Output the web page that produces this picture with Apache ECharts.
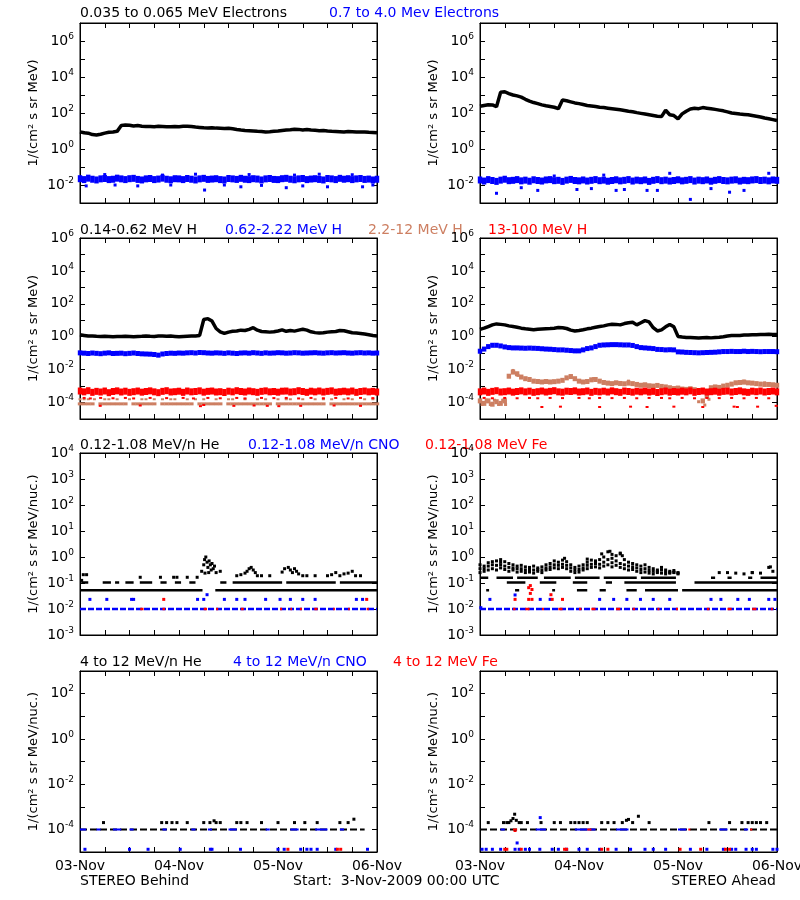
<!DOCTYPE html>
<html><head><meta charset="utf-8">
<script src="https://cdn.jsdelivr.net/npm/echarts/dist/echarts.min.js"></script>
<style>html,body{margin:0;padding:0;background:#fff}#c{width:800px;height:900px}</style>
</head><body><div id="c"></div>
<script>
// ---------- tick labels / categories ----------
const DAY_LABELS = ['03-Nov', '04-Nov', '05-Nov', '06-Nov'];   // x ticks every 24 h (hours 0..72)

// ---------- DATA (log10 of flux), hourly values h=0..72, null = no point ----------
// Row 1 left : STEREO Behind electrons
const EB_LO = [0.95,0.9,0.88,0.8,0.78,0.82,0.88,0.93,0.95,0.98,
  1.3,1.33,1.32,1.28,1.3,1.27,1.25,1.25,1.24,1.26,
  1.25,1.24,1.23,1.25,1.24,1.26,1.27,1.25,1.22,1.2,
  1.18,1.17,1.18,1.16,1.15,1.14,1.15,1.12,1.08,1.05,
  1.03,1.02,1.0,0.98,0.97,0.95,0.96,0.98,1.0,1.03,
  1.05,1.07,1.1,1.09,1.06,1.08,1.05,1.04,1.02,1.03,
  1.0,0.98,0.97,0.96,0.95,0.97,0.96,0.95,0.94,0.95,
  0.93,0.92,0.9];
const EB_HI = [-1.65,-1.7,-1.62,-1.68,-1.72,-1.66,-1.64,-1.7,-1.68,-1.62,
  -1.66,-1.7,-1.65,-1.63,-1.69,-1.72,-1.66,-1.64,-1.7,-1.67,
  -1.62,-1.68,-1.71,-1.65,-1.66,-1.7,-1.64,-1.68,-1.72,-1.66,
  -1.63,-1.69,-1.67,-1.65,-1.7,-1.72,-1.64,-1.66,-1.69,-1.63,
  -1.68,-1.7,-1.65,-1.67,-1.72,-1.66,-1.64,-1.69,-1.7,-1.65,
  -1.63,-1.68,-1.71,-1.66,-1.64,-1.7,-1.67,-1.65,-1.69,-1.72,
  -1.64,-1.66,-1.7,-1.63,-1.68,-1.65,-1.7,-1.66,-1.64,-1.69,
  -1.67,-1.72,-1.68];
const EB_HI_OUT = [[1.5,-2.05],[8.5,-2.0],[14,-2.05],[22,-2.0],[30.2,-2.28],[35,-2.0],[39,-2.1],[44,-2.02],[50,-2.15],[54,-2.05],[60,-2.1],[68.5,-2.1],[71,-2.0],[6,-1.42],[20,-1.45],[28,-1.4],[41,-1.42],[52,-1.45],[58,-1.4],[66,-1.43]];

// Row 1 right : STEREO Ahead electrons
const EA_LO = [2.38,2.42,2.46,2.45,2.35,3.15,3.18,3.08,3.0,2.95,
  2.88,2.76,2.66,2.58,2.52,2.45,2.4,2.36,2.32,2.24,
  2.72,2.68,2.62,2.56,2.52,2.47,2.42,2.39,2.36,2.32,
  2.3,2.27,2.24,2.21,2.18,2.14,2.1,2.07,2.02,1.98,
  1.94,1.9,1.86,1.82,1.8,2.15,1.9,1.86,1.68,1.95,
  2.1,2.22,2.26,2.24,2.3,2.27,2.24,2.2,2.16,2.12,
  2.06,2.0,1.97,1.94,1.92,1.9,1.86,1.82,1.78,1.72,
  1.68,1.63,1.58];
const EA_HI = [-1.72,-1.78,-1.7,-1.75,-1.8,-1.73,-1.68,-1.76,-1.74,-1.7,
  -1.77,-1.73,-1.79,-1.71,-1.75,-1.78,-1.72,-1.7,-1.76,-1.74,
  -1.8,-1.73,-1.69,-1.75,-1.77,-1.72,-1.78,-1.74,-1.7,-1.76,
  -1.73,-1.79,-1.75,-1.71,-1.77,-1.74,-1.7,-1.78,-1.73,-1.76,
  -1.72,-1.8,-1.74,-1.7,-1.76,-1.73,-1.78,-1.75,-1.71,-1.77,
  -1.74,-1.7,-1.78,-1.73,-1.76,-1.72,-1.79,-1.74,-1.7,-1.75,
  -1.77,-1.73,-1.71,-1.78,-1.74,-1.76,-1.72,-1.7,-1.75,-1.73,
  -1.77,-1.72,-1.74];
const EA_HI_OUT = [[4,-2.46],[14,-2.3],[23.5,-2.25],[33,-2.3],[35,-2.25],[40.5,-2.3],[43,-2.3],[51,-2.8],[60.5,-2.4],[64,-2.3],[10,-2.15],[27,-2.2],[56,-2.2],[46,-1.35],[70,-1.35],[30,-1.45],[18,-1.5]];

// Row 2 left : STEREO Behind protons
const HB1 = [0.12,0.08,0.04,0.05,0.03,0.02,0.03,0.02,0.0,0.02,
  0.01,0.03,0.02,0.0,0.02,0.03,0.05,0.03,0.02,0.04,
  0.05,0.03,0.04,0.02,0.0,0.02,0.03,0.04,0.05,0.08,
  1.05,1.1,0.95,0.5,0.3,0.2,0.28,0.33,0.35,0.4,
  0.38,0.45,0.55,0.4,0.32,0.3,0.28,0.3,0.35,0.42,
  0.33,0.38,0.34,0.4,0.45,0.4,0.3,0.25,0.22,0.24,
  0.28,0.3,0.32,0.38,0.36,0.3,0.24,0.22,0.2,0.16,
  0.12,0.08,0.05];
const HB2 = [-0.98,-1.0,-1.02,-0.99,-1.01,-1.03,-1.0,-0.98,-1.02,-1.01,
  -1.0,-1.03,-1.01,-0.99,-1.02,-1.04,-1.05,-1.06,-1.08,-1.12,
  -1.05,-1.02,-1.0,-1.01,-0.99,-1.0,-0.98,-0.97,-0.99,-0.96,
  -0.97,-0.99,-1.0,-0.98,-0.99,-1.01,-0.98,-1.0,-1.02,-0.99,
  -0.98,-1.0,-0.97,-0.99,-1.01,-0.98,-1.0,-0.99,-0.97,-0.98,
  -1.0,-0.99,-0.97,-0.98,-1.0,-0.99,-0.98,-0.97,-0.99,-1.0,
  -0.98,-0.97,-0.99,-0.98,-0.97,-0.99,-1.0,-0.98,-0.97,-0.99,
  -0.98,-1.0,-0.99];
const HB3_LVL = [-4.08,-4.08,-4.08,-4.08,null,-4.08,-4.08,-4.08,-4.08,-4.08,
  -4.08,-4.08,null,-4.08,-4.08,-4.08,-4.08,-4.08,-4.08,null,
  -4.08,-4.08,-4.08,-4.08,-4.08,-4.08,-4.08,-4.08,null,-4.08,
  -4.08,-4.08,-4.08,-4.08,-4.08,null,-4.08,-4.08,-4.08,-4.08,
  -4.08,-4.08,-4.08,-4.08,-4.08,-4.08,-4.08,null,-4.08,-4.08,
  -4.08,-4.08,-4.08,-4.08,-4.08,-4.08,-4.08,-4.08,-4.08,-4.08,
  null,-4.08,-4.08,-4.08,-4.08,-4.08,-4.08,-4.08,-4.08,-4.08,
  -4.08,-4.08,-4.08];
const HB3_HI = [[0,-3.8],[1,-3.8],[2,-3.8],[3.5,-3.8],[6,-3.8],[7,-3.8],[9,-3.8],[12,-3.8],[15,-3.8],[16,-3.8],[18,-3.8],[20,-3.8],[22,-3.8],[23,-3.8],[26,-3.8],[28,-3.8],[30,-3.8],[33,-3.8],[36,-3.8],[37,-3.8],[40,-3.8],[43,-3.8],[45,-3.8],[48,-3.8],[50,-3.8],[51,-3.8],[54,-3.8],[57,-3.8],[59,-3.8],[61,-3.8],[64,-3.8],[66,-3.8],[69,-3.8],[71,-3.8]];
const HB4 = [-3.3,-3.35,-3.28,-3.38,-3.32,-3.36,-3.3,-3.4,-3.33,-3.29,
  -3.36,-3.31,-3.38,-3.34,-3.3,-3.37,-3.33,-3.29,-3.35,-3.4,
  -3.32,-3.28,-3.36,-3.34,-3.31,-3.38,-3.3,-3.35,-3.33,-3.29,
  -3.37,-3.32,-3.3,-3.36,-3.34,-3.39,-3.31,-3.35,-3.28,-3.33,
  -3.36,-3.3,-3.34,-3.38,-3.32,-3.29,-3.35,-3.33,-3.37,-3.31,
  -3.3,-3.36,-3.34,-3.28,-3.33,-3.38,-3.31,-3.35,-3.3,-3.36,
  -3.32,-3.29,-3.37,-3.34,-3.31,-3.35,-3.3,-3.38,-3.33,-3.3,
  -3.35,-3.32,-3.36];
const HB4_LOW = [[1,-3.72],[2.5,-3.75],[5,-3.72],[8,-3.74],[11,-3.72],[13,-3.75],[17,-3.72],[21,-3.73],[25,-3.72],[27.5,-3.75],[31,-3.72],[34,-3.74],[38,-3.72],[40,-3.75],[44,-3.72],[47,-3.73],[50,-3.72],[53,-3.75],[56,-3.72],[59,-3.74],[62,-3.72],[65,-3.75],[68,-3.72],[71,-3.73],[4.9,-4.2],[14.6,-4.18],[29.2,-4.22],[30,-4.15],[37.3,-4.2],[42.2,-4.18],[45.4,-4.2],[48.2,-4.22],[53.5,-4.2],[61.6,-4.18],[68,-4.2]];

// Row 2 right : STEREO Ahead protons
const HA1 = [0.45,0.52,0.62,0.72,0.78,0.75,0.72,0.66,0.62,0.58,
  0.52,0.48,0.45,0.42,0.45,0.47,0.49,0.5,0.52,0.56,
  0.55,0.5,0.4,0.35,0.38,0.42,0.48,0.52,0.58,0.62,
  0.66,0.72,0.76,0.75,0.72,0.8,0.85,0.88,0.72,0.85,
  0.98,0.9,0.55,0.35,0.42,0.6,0.75,0.6,0.02,-0.02,
  -0.04,-0.05,-0.06,-0.08,-0.06,-0.05,-0.07,-0.05,-0.03,0.0,
  0.04,0.07,0.08,0.08,0.1,0.1,0.12,0.12,0.13,0.14,
  0.15,0.14,0.14];
const HA2 = [-0.88,-0.75,-0.6,-0.52,-0.52,-0.56,-0.62,-0.66,-0.68,-0.68,
  -0.69,-0.7,-0.69,-0.7,-0.71,-0.73,-0.75,-0.76,-0.78,-0.8,
  -0.8,-0.82,-0.84,-0.86,-0.86,-0.8,-0.72,-0.68,-0.6,-0.52,
  -0.5,-0.49,-0.48,-0.48,-0.49,-0.5,-0.5,-0.53,-0.6,-0.66,
  -0.68,-0.7,-0.72,-0.77,-0.78,-0.8,-0.79,-0.8,-0.92,-0.93,
  -0.95,-0.96,-0.97,-0.98,-0.97,-0.96,-0.95,-0.94,-0.92,-0.9,
  -0.9,-0.89,-0.9,-0.9,-0.88,-0.9,-0.89,-0.9,-0.91,-0.9,
  -0.9,-0.9,-0.91];
const HA3 = [-3.9,-4.05,-3.9,-4.1,-3.95,-4.05,-3.9,-2.4,-2.15,-2.25,
  -2.45,-2.55,-2.6,-2.7,-2.72,-2.75,-2.72,-2.75,-2.73,-2.7,
  -2.65,-2.5,-2.42,-2.55,-2.7,-2.75,-2.72,-2.62,-2.6,-2.7,
  -2.78,-2.82,-2.85,-2.8,-2.84,-2.86,-2.82,-2.85,-2.9,-2.95,
  -2.92,-2.98,-3.0,-2.96,-3.02,-3.05,-3.1,-3.15,-3.12,-3.18,
  -3.2,-3.16,-3.22,-3.3,-3.9,-3.6,-3.1,-3.05,-3.08,-3.0,
  -2.95,-2.88,-2.8,-2.78,-2.76,-2.8,-2.82,-2.85,-2.88,-2.9,
  -2.9,-2.92,-2.95];
const HA3_EXTRA = [[0.5,-4.12],[1.5,-3.86],[2.5,-4.12],[3.5,-3.86],[4.5,-4.12],[5.5,-3.86],[6.2,-4.12],[53,-3.95],[54.5,-4.15],[55.5,-3.8],[8,-2.05],[9.2,-2.35],[22,-2.4],[27.5,-2.55],[36,-2.7],[64,-2.7],[69,-2.8]];
const HA4 = [-3.35,-3.3,-3.38,-3.32,-3.28,-3.36,-3.34,-3.3,-3.37,-3.33,
  -3.29,-3.35,-3.31,-3.38,-3.34,-3.3,-3.36,-3.32,-3.28,-3.35,
  -3.37,-3.31,-3.33,-3.29,-3.36,-3.34,-3.3,-3.38,-3.32,-3.35,
  -3.31,-3.36,-3.29,-3.34,-3.38,-3.3,-3.33,-3.37,-3.31,-3.35,
  -3.3,-3.36,-3.32,-3.39,-3.34,-3.3,-3.37,-3.33,-3.36,-3.31,
  -3.35,-3.29,-3.38,-3.33,-3.3,-3.36,-3.34,-3.31,-3.37,-3.32,
  -3.3,-3.36,-3.33,-3.29,-3.35,-3.38,-3.31,-3.34,-3.3,-3.36,
  -3.33,-3.3,-3.35];
const HA4_LOW = [[1,-3.72],[3,-3.74],[6,-3.72],[9,-3.74],[12,-3.72],[14,-3.74],[17,-3.72],[20,-3.73],[24,-3.72],[26.5,-3.74],[29,-3.72],[32,-3.73],[35,-3.72],[38,-3.74],[41,-3.72],[44,-3.72],[46,-3.74],[49,-3.72],[52,-3.74],[55,-3.72],[58,-3.73],[61,-3.72],[64,-3.74],[67,-3.72],[70,-3.74],[15,-4.27],[19.5,-4.25],[29,-4.27],[36.5,-4.25],[40.5,-4.27],[47,-4.25],[54,-4.27],[61.6,-4.25],[62.4,-4.27],[67.3,-4.25],[71.8,-4.2]];

// Row 3 left : Behind 0.12-1.08 MeV/n ; level runs are [startHour, endHour, log10 value]
const HEB_RUNS = [[0,29.7,-1.28],[32.8,72,-1.28],[0.3,2,-0.98],[5.5,7.5,-0.98],[8.5,9.5,-0.98],[11,13,-0.98],[14.5,17.5,-0.98],[19.5,21,-0.98],[23,24.5,-0.98],[26.5,28,-0.98],[34,35.5,-0.98],[37,49,-0.98],[50,62,-0.98],[63,72,-0.98]];
const HEB_PTS = [[0.8,-0.68],[1.6,-0.68],[0.4,-0.9],[14.6,-0.78],[19.5,-0.78],[22.7,-0.78],[23.5,-0.78],[26,-0.78],[28.4,-0.78],[29.5,-0.55],[30,-0.3],[30.2,-0.1],[30.5,0.0],[30.8,-0.2],[31,-0.4],[31.3,-0.15],[31.6,-0.3],[31.8,-0.5],[32,-0.25],[32.3,-0.45],[32.6,-0.35],[33,-0.6],[34,-0.55],[30.3,-0.62],[31.2,-0.6],[38,-0.72],[39,-0.68],[40,-0.62],[40.5,-0.55],[41,-0.45],[41.5,-0.4],[42,-0.5],[42.5,-0.6],[43,-0.72],[44,-0.72],[46,-0.72],[49,-0.58],[49.6,-0.45],[50.5,-0.4],[51,-0.5],[51.5,-0.6],[52,-0.45],[52.5,-0.55],[53,-0.65],[54,-0.72],[55,-0.72],[57,-0.72],[60,-0.72],[61,-0.68],[62,-0.6],[63,-0.72],[64,-0.65],[65,-0.62],[66,-0.55],[66.8,-0.72],[68,-0.72]];
const CNOB_RUNS = [[0,72,-2.0]];
const CNOB_PTS = [[2.4,-1.63],[6.5,-1.63],[12.5,-1.63],[13,-1.63],[28.5,-1.63],[30,-1.63],[30.8,-1.45],[35,-1.63],[38,-1.63],[40,-1.63],[45,-1.63],[48.5,-1.63],[51,-1.63],[54,-1.63],[57,-1.63],[67,-1.63],[68.5,-1.63]];
const FEB_RUNS = [[14.6,15.4,-2.0],[20,20.6,-2.0],[30,30.8,-2.0],[33,33.5,-2.0],[39,39.7,-2.0],[48.5,49,-2.0],[51,51.4,-2.0],[53.3,53.8,-2.0],[56.8,57.6,-2.0],[61.4,61.8,-2.0],[65,65.4,-2.0],[69.5,70,-2.0]];
const FEB_PTS = [[20.3,-1.63],[69.5,-1.63]];

// Row 3 right : Ahead 0.12-1.08 MeV/n
const HEA_RUNS = [[1.5,2.2,-1.28],[8.5,9.5,-1.28],[17.5,18.2,-1.28],[23.5,26,-1.28],[29,30.5,-1.28],[35.5,38,-1.28],[40,48,-1.28],[49,72,-1.28],
  [6.5,11,-0.98],[14.5,18.5,-0.98],[22.5,26,-0.98],[30.5,32,-0.98],[35,47.5,-0.98],[52,72,-0.98],
  [0,2,-0.8],[4,8,-0.8],[9,14,-0.8],[15.5,22,-0.8],[23,29,-0.8],[30,38,-0.8],[39,47.5,-0.8],[56,57,-0.8],[60,61,-0.8],[65,66,-0.8],[68,72,-0.8]];
const HEA_C1 = [-0.45,-0.35,-0.22,-0.18,-0.15,-0.2,-0.18,-0.25,-0.3,-0.35,
  -0.32,-0.38,-0.4,-0.35,-0.42,-0.38,-0.3,-0.25,-0.15,-0.2,
  -0.12,-0.18,-0.3,-0.4,-0.35,-0.3,-0.2,-0.12,-0.15,-0.1,
  0.0,0.2,-0.05,0.05,0.12,-0.1,-0.2,-0.25,-0.3,-0.35,
  -0.3,-0.4,-0.45,-0.5,-0.4,-0.5,-0.55,-0.52,-0.6,null,
  null,null,null,null,null,null,null,null,null,null,
  null,null,null,null,null,null,null,null,null,null,
  -0.4,-0.55,null];
const HEA_C2 = [-0.6,-0.55,-0.5,-0.45,-0.5,-0.42,-0.48,-0.55,-0.5,-0.58,
  -0.55,-0.6,-0.58,-0.62,-0.55,-0.6,-0.5,-0.48,-0.42,-0.45,
  -0.4,-0.45,-0.55,-0.6,-0.58,-0.5,-0.45,-0.4,-0.38,-0.42,
  -0.35,-0.3,-0.38,-0.32,-0.4,-0.45,-0.5,-0.48,-0.55,-0.6,
  -0.58,-0.62,-0.65,-0.6,-0.62,-0.65,-0.62,-0.6,-0.65,null,
  null,null,null,null,null,null,null,null,null,null,
  -0.6,null,null,null,-0.65,null,-0.6,null,-0.62,null,
  null,null,null];
const HEA_C3 = [-0.3,-0.45,-0.35,-0.3,-0.32,-0.3,-0.35,-0.4,-0.42,-0.45,
  -0.45,-0.5,-0.48,-0.5,-0.48,-0.5,-0.42,-0.38,-0.3,-0.32,
  -0.28,-0.32,-0.42,-0.5,-0.48,-0.42,-0.32,-0.28,-0.25,-0.28,
  -0.2,-0.1,-0.22,-0.15,-0.25,-0.3,-0.35,-0.38,-0.42,-0.48,
  -0.45,-0.52,-0.55,-0.55,-0.5,-0.58,-0.6,-0.58,-0.62,null,
  null,null,null,null,null,null,null,null,null,null,
  null,null,null,null,null,null,null,null,null,null,
  null,null,null];
const HEA_PTS = [[29.5,0.12],[31.5,0.22],[32,0.1],[34,0.15],[34.5,0.05],[5,-0.1],[20.5,-0.05],[26,-0.08],[70.4,-0.38],[66,-0.6],[58,-0.6],[62,-0.62]];
const CNOA_RUNS = [[0,72,-2.0]];
const CNOA_PTS = [[2.4,-1.63],[14.6,-1.63],[17,-1.63],[29,-1.63],[32.4,-1.63],[35.6,-1.63],[38.9,-1.63],[42,-1.63],[46,-1.63],[56,-1.63],[58.4,-1.63],[62.5,-1.63],[65.3,-1.63],[70,-1.63],[71.5,-1.63],[8.5,-1.46],[0.2,-1.95]];
const FEA_RUNS = [[8,8.6,-2.0],[11,12,-2.0],[15,15.5,-2.0],[19,20,-2.0],[24,24.6,-2.0],[27,28,-2.0],[33,34,-2.0],[37,37.6,-2.0],[43,43.5,-2.0],[47.5,48,-2.0],[55,55.6,-2.0],[60,61,-2.0],[66,67,-2.0],[70.5,71,-2.0]];
const FEA_PTS = [[8.5,-1.63],[11.8,-1.63],[12.6,-1.63],[17.5,-1.63],[20,-1.63],[11.8,-1.18],[12.2,-1.1],[12.6,-1.25],[12.2,-1.4],[17.2,-1.45]];

// Row 4 left : Behind 4-12 MeV/n
const HE4B_RUNS = [[0,69,-4.0]];
const CNO4B_RUNS = [[0,1.5,-4.0],[4,5,-4.0],[8,10,-4.0],[12,13,-4.0],[20,21,-4.0],[27,28,-4.0],[31,32,-4.0],[36,38,-4.0],[45,46,-4.0],[51,53,-4.0],[57,60,-4.0],[63,64,-4.0]];
const HE4B_PTS = [[5.7,-3.7],[19.8,-3.7],[21,-3.7],[22.3,-3.7],[23.5,-3.7],[26,-3.7],[30,-3.7],[31.5,-3.7],[32.5,-3.62],[33,-3.7],[34,-3.7],[38,-3.7],[39,-3.7],[40.5,-3.7],[44,-3.7],[48,-3.7],[52,-3.7],[54.5,-3.7],[57.5,-3.7],[63,-3.7],[65,-3.7],[66.4,-3.55]];
const CNO4B_PTS = [[1.2,-4.88],[12,-4.88],[16.5,-4.88],[24.3,-4.88],[31.6,-4.88],[32,-4.88],[38.9,-4.88],[48,-4.88],[49.5,-4.88],[53.5,-4.88],[55,-4.88],[56,-4.88],[57.5,-4.88],[62,-4.88],[69.7,-4.88]];
const FE4B_PTS = [[50.4,-4.88],[62.4,-4.88],[63.2,-4.88]];

// Row 4 right : Ahead 4-12 MeV/n
const HE4A_RUNS = [[0,72,-4.0]];
const CNO4A_RUNS = [[5,6,-4.0],[13.5,16,-4.0],[23,28,-4.0],[33,36,-4.0],[48,50,-4.0],[58,60,-4.0],[64,65,-4.0]];
const FE4A_RUNS = [[8,9,-4.0],[26,27,-4.0],[50.5,51,-4.0],[65.5,66,-4.0]];
const HE4A_PTS = [[2,-3.7],[5.7,-3.7],[6.5,-3.7],[7,-3.7],[7.5,-3.62],[8,-3.52],[8.4,-3.33],[8.8,-3.6],[9.5,-3.7],[10,-3.7],[11.5,-3.7],[14.8,-3.7],[18,-3.7],[19.5,-3.7],[22,-3.7],[23,-3.7],[24,-3.7],[25,-3.7],[26,-3.7],[29.5,-3.7],[31,-3.7],[32.5,-3.7],[34.5,-3.7],[35.5,-3.6],[36,-3.56],[37,-3.7],[38.4,-3.42],[41,-3.7],[55.5,-3.7],[60.5,-3.7],[63.5,-3.7],[65,-3.7],[66,-3.7],[67,-3.7],[68,-3.7],[69.5,-3.7]];
const CNO4A_PTS = [[14.6,-3.48],[9,-4.6],[0.5,-4.88],[1.5,-4.88],[3,-4.88],[5,-4.88],[8.5,-4.88],[9.5,-4.88],[11,-4.88],[12,-4.88],[14.5,-4.88],[17.5,-4.88],[19,-4.88],[21,-4.88],[24,-4.88],[26,-4.88],[29,-4.88],[33,-4.88],[36.5,-4.88],[40,-4.88],[42,-4.88],[45,-4.88],[51,-4.88],[55,-4.88],[59,-4.88],[61,-4.88],[62,-4.88],[64.5,-4.88],[66,-4.88],[67,-4.88],[71,-4.88],[72,-4.88]];
const FE4A_PTS = [[8.5,-4.05],[6,-4.88],[6.5,-4.88],[10,-4.88],[20.5,-4.88],[21,-4.88],[29.5,-4.88],[31,-4.88],[48.5,-4.88],[53.5,-4.88],[59.5,-4.88],[60.5,-4.88]];

// ---------- helpers ----------
const BLACK = '#000000', BLUE = '#0000ff', RED = '#ff0000', BROWN = '#cd7f62';
const FONT = '"DejaVu Sans", sans-serif';
const hourly = arr => arr.map((v, i) => v === null ? null : [i, v]).filter(d => d);
const hourlyLine = arr => arr.map((v, i) => [i, v === null ? '-' : v]);
const runs = list => { const out = []; list.forEach((s, k) => { if (k) out.push([s[0], '-']); out.push([s[0], s[2]], [s[1], s[2]]); }); return out; };

function L(g, data, color, w, dash) {
  return { type: 'line', xAxisIndex: 2 * g, yAxisIndex: 2 * g, data, symbol: 'none', silent: true, animation: false,
    connectNulls: false, clip: true, lineStyle: { color, width: w, type: dash || 'solid', cap: 'butt', opacity: 1 } };
}
function D(g, data, color, size) {
  return { type: 'scatter', xAxisIndex: 2 * g, yAxisIndex: 2 * g, data, symbol: 'rect', symbolSize: size, silent: true,
    animation: false, clip: true, itemStyle: { color, opacity: 1, borderWidth: 0 } };
}

const NAME_E = '1/(cm² s sr MeV)';
const NAME_N = '1/(cm² s sr MeV/nuc.)';
const PANELS = [
  { left: 80, top: 23, height: 180, min: -3, max: 7, every: 2, name: NAME_E },
  { left: 480, top: 23, height: 180, min: -3, max: 7, every: 2, name: NAME_E },
  { left: 80, top: 238, height: 181, min: -5, max: 6, every: 2, name: NAME_E },
  { left: 480, top: 238, height: 181, min: -5, max: 6, every: 2, name: NAME_E },
  { left: 80, top: 453, height: 182, min: -3, max: 4, every: 1, name: NAME_N },
  { left: 480, top: 453, height: 182, min: -3, max: 4, every: 1, name: NAME_N },
  { left: 80, top: 671, height: 181, min: -5, max: 3, every: 2, name: NAME_N, bottom: true },
  { left: 480, top: 671, height: 181, min: -5, max: 3, every: 2, name: NAME_N, bottom: true }
];

const option = { animation: false, backgroundColor: '#fff', grid: [], xAxis: [], yAxis: [], series: [], graphic: [] };
const tick = { inside: true, length: 5, lineStyle: { color: '#000', width: 1 } };
const axLine = { show: true, onZero: false, lineStyle: { color: '#000', width: 1 } };

PANELS.forEach((p, g) => {
  option.grid.push({ left: p.left, top: p.top, width: 297, height: p.height, show: true, borderColor: '#000', borderWidth: 1,
    containLabel: false, outerBoundsMode: 'none' });
  option.xAxis.push({ type: 'value', gridIndex: g, min: 0, max: 72, interval: 6, axisLine: axLine, axisTick: tick, splitLine: { show: false },
    axisLabel: { show: !!p.bottom, showMinLabel: true, showMaxLabel: true, hideOverlap: false, margin: 7, color: '#000', fontFamily: FONT, fontSize: 14,
      formatter: v => (v % 24 === 0 ? DAY_LABELS[v / 24] : '') } });
  option.xAxis.push({ type: 'value', gridIndex: g, position: 'top', min: 0, max: 72, interval: 6, axisLine: axLine, axisTick: tick,
    splitLine: { show: false }, axisLabel: { show: false } });
  option.yAxis.push({ type: 'value', gridIndex: g, min: p.min, max: p.max, interval: 1, axisLine: axLine, axisTick: tick, splitLine: { show: false },
    name: p.name, nameLocation: 'middle', nameRotate: 90, nameGap: 40,
    nameTextStyle: { color: '#000', fontFamily: FONT, fontSize: 13 },
    axisLabel: { margin: 6, showMinLabel: true, showMaxLabel: true,
      formatter: v => (Math.round(v) % p.every === 0 ? '{b|10}{e|' + Math.round(v) + '}' : ''),
      rich: { b: { fontSize: 14, fontFamily: FONT, color: '#000', lineHeight: 18 },
              e: { fontSize: 9, fontFamily: FONT, color: '#000', lineHeight: 9, verticalAlign: 'top' } } } });
  option.yAxis.push({ type: 'value', gridIndex: g, position: 'right', min: p.min, max: p.max, interval: 1, axisLine: axLine, axisTick: tick,
    splitLine: { show: false }, axisLabel: { show: false } });
});

const S = option.series;
const BAND_W = 4.4;
// row 1
S.push(L(0, hourlyLine(EB_LO), BLACK, 3.5));
S.push(D(0, hourly(EB_HI), BLUE, [BAND_W, 7]));
S.push(D(0, EB_HI_OUT, BLUE, [3, 3]));
S.push(L(1, hourlyLine(EA_LO), BLACK, 3.5));
S.push(D(1, hourly(EA_HI), BLUE, [BAND_W, 7]));
S.push(D(1, EA_HI_OUT, BLUE, [3, 3]));
// row 2
S.push(L(2, hourlyLine(HB1), BLACK, 3.5));
S.push(D(2, hourly(HB2), BLUE, [BAND_W, 5]));
S.push(D(2, hourly(HB3_LVL), BROWN, [BAND_W, 3]));
S.push(D(2, HB3_HI, BROWN, [3, 2]));
S.push(D(2, hourly(HB4), RED, [BAND_W, 7]));
S.push(D(2, HB4_LOW, RED, [3, 2]));
S.push(L(3, hourlyLine(HA1), BLACK, 3.5));
S.push(D(3, hourly(HA2), BLUE, [BAND_W, 5]));
S.push(D(3, hourly(HA3), BROWN, [BAND_W, 5]));
S.push(D(3, HA3_EXTRA, BROWN, [3, 3]));
S.push(D(3, hourly(HA4), RED, [BAND_W, 7]));
S.push(D(3, HA4_LOW, RED, [3, 2]));
// row 3
S.push(L(4, runs(HEB_RUNS), BLACK, 2.5));
S.push(D(4, HEB_PTS, BLACK, [3, 3]));
S.push(L(4, runs(CNOB_RUNS), BLUE, 2.5, [6, 2]));
S.push(D(4, CNOB_PTS, BLUE, [3, 3]));
S.push(L(4, runs(FEB_RUNS), RED, 2.5));
S.push(D(4, FEB_PTS, RED, [3, 3]));
S.push(L(5, runs(HEA_RUNS), BLACK, 2.5));
S.push(D(5, hourly(HEA_C1), BLACK, [3, 3]));
S.push(D(5, hourly(HEA_C2), BLACK, [3, 3]));
S.push(D(5, hourly(HEA_C3), BLACK, [3, 3]));
S.push(D(5, HEA_PTS, BLACK, [3, 3]));
S.push(L(5, runs(CNOA_RUNS), BLUE, 2.5, [6, 2]));
S.push(D(5, CNOA_PTS, BLUE, [3, 3]));
S.push(L(5, runs(FEA_RUNS), RED, 2.5));
S.push(D(5, FEA_PTS, RED, [3, 3]));
// row 4
S.push(L(6, runs(HE4B_RUNS), BLACK, 2, [7, 3]));
S.push(L(6, runs(CNO4B_RUNS), BLUE, 2));
S.push(D(6, HE4B_PTS, BLACK, [3, 3]));
S.push(D(6, CNO4B_PTS, BLUE, [3, 3]));
S.push(D(6, FE4B_PTS, RED, [3, 3]));
S.push(L(7, runs(HE4A_RUNS), BLACK, 2, [7, 3]));
S.push(L(7, runs(CNO4A_RUNS), BLUE, 2));
S.push(L(7, runs(FE4A_RUNS), RED, 2));
S.push(D(7, HE4A_PTS, BLACK, [3, 3]));
S.push(D(7, CNO4A_PTS, BLUE, [3, 3]));
S.push(D(7, FE4A_PTS, RED, [3, 3]));

// ---------- titles / annotations ----------
const TITLES = [
  [80, 13, '0.035 to 0.065 MeV Electrons', BLACK], [329, 13, '0.7 to 4.0 Mev Electrons', BLUE],
  [80, 230, '0.14-0.62 MeV H', BLACK], [225, 230, '0.62-2.22 MeV H', BLUE], [368, 230, '2.2-12 MeV H', BROWN], [488, 230, '13-100 MeV H', RED],
  [80, 445, '0.12-1.08 MeV/n He', BLACK], [248, 445, '0.12-1.08 MeV/n CNO', BLUE], [425, 445, '0.12-1.08 MeV Fe', RED],
  [80, 662, '4 to 12 MeV/n He', BLACK], [233, 662, '4 to 12 MeV/n CNO', BLUE], [393, 662, '4 to 12 MeV Fe', RED],
  [80, 881, 'STEREO Behind', BLACK], [293, 881, 'Start:  3-Nov-2009 00:00 UTC', BLACK]
];
TITLES.forEach(t => option.graphic.push({ type: 'text', x: t[0], y: t[1], silent: true,
  style: { text: t[2], fill: t[3], font: '14px ' + FONT, align: 'left', verticalAlign: 'middle', textAlign: 'left', textVerticalAlign: 'middle' } }));
option.graphic.push({ type: 'text', x: 776, y: 881, silent: true,
  style: { text: 'STEREO Ahead', fill: BLACK, font: '14px ' + FONT, align: 'right', verticalAlign: 'middle', textAlign: 'right', textVerticalAlign: 'middle' } });

const chart = echarts.init(document.getElementById('c'), null, { renderer: 'canvas' });
chart.setOption(option);
</script></body></html>
